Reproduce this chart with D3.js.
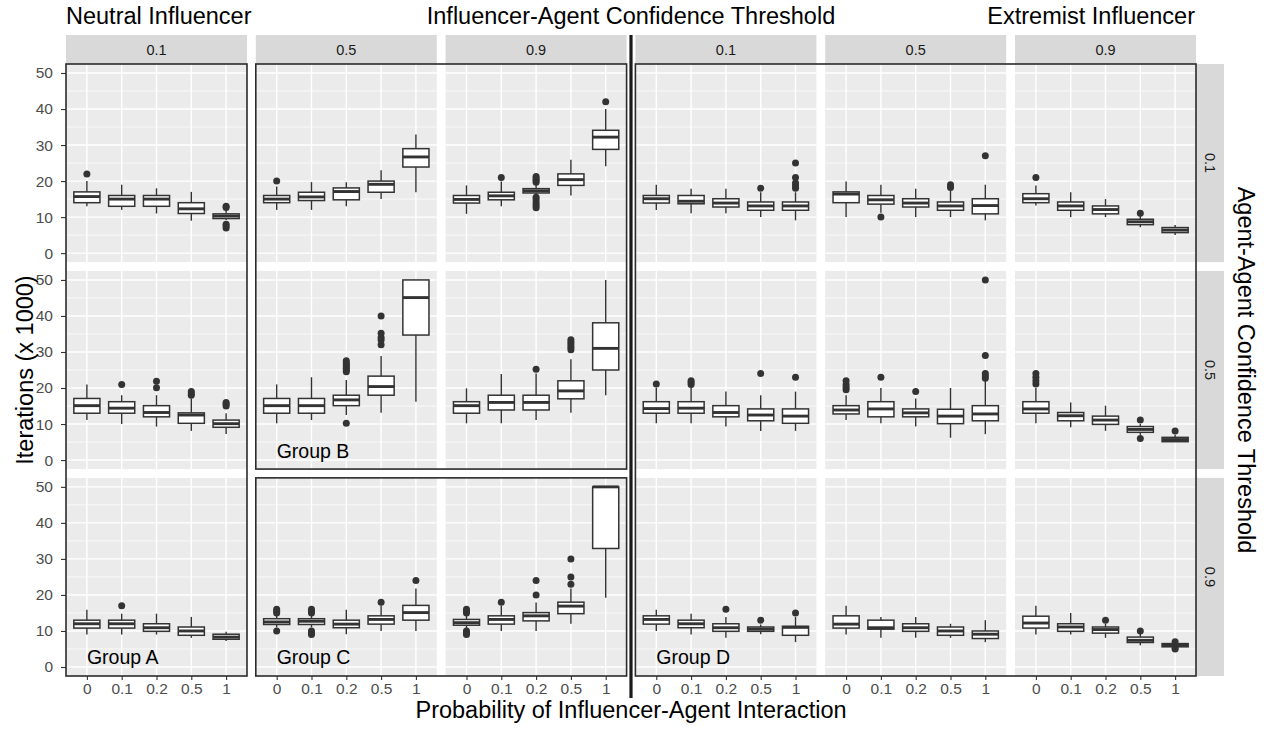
<!DOCTYPE html>
<html>
<head>
<meta charset="utf-8">
<script src="https://cdn.jsdelivr.net/npm/d3@7"></script>
<style>
body { margin:0; background:#fff; }
svg { display:block; font-family:"Liberation Sans", Arial, Helvetica, sans-serif; }
.axis path.domain { display:none; }
.axis line { stroke:#333; stroke-width:1.1; }
.axis text { fill:#4d4d4d; font-size:15.5px; font-family:"Liberation Sans", Arial, sans-serif; }
</style>
</head>
<body>
<div id="canvas"></div>
<script>
var probabilities = ['0','0.1','0.2','0.5','1'];
var influencerThresholds = ['0.1','0.5','0.9'];
var agentThresholds = ['0.1','0.5','0.9'];
var yTicks = [0,10,20,30,40,50];
var yMinor = [5,15,25,35,45];

// one box = [lower whisker, q1, median, q3, upper whisker, [outliers]]  (iterations x 1000)
// neutral influencer, agent-agent threshold 0.1
var neutral_a01_i01 = [[13,14,15.7,17,20,[22]], [12,13,15,16,19,[]], [11,13,15,16,18,[]], [9,11,12.3,14,17,[]], [9.2,9.6,10.3,10.9,12,[13,12.7,8,7.5,7]]];
var neutral_a01_i05 = [[12,14,15,16,18.5,[20]], [12,14.6,15.6,16.9,19.7,[]], [13,14.8,17.1,18.1,19.7,[]], [15,16.9,19.1,20,23,[]], [16.9,23.9,26.7,29,32.9,[]]];
var neutral_a01_i09 = [[10.9,13.9,14.9,16,18.8,[]], [13,14.8,15.9,16.9,19.9,[21]], [16,16.7,17.3,17.9,19,[19.7,20.2,20.7,21.3,15.5,14.8,14,13.3,12.6]], [16,18.8,20.4,22,25.9,[]], [24.1,28.8,32.2,34.1,40,[42]]];
// neutral influencer, agent-agent threshold 0.5
var neutral_a05_i01 = [[11.1,13,15.1,17.1,21,[]], [10,13,14.4,16.2,18,[21]], [9.3,12,13.2,15.1,18,[20.1,21.9]], [8.1,10.2,12.5,13.1,17.1,[18,18.5,19]], [7.2,9.1,10.1,11.1,13,[15,15.5,16]]];
var neutral_a05_i05 = [[10.2,13,15.1,17.1,21,[]], [11.1,13,15.1,17.1,23,[]], [12.5,15.1,16.7,18,22.2,[24.5,25,25.5,26,26.5,27,27.6,10.2]], [13.1,18,20.4,23.3,28.9,[32,33.3,34,35.2,40]], [16.2,34.7,45.1,50,50,[]]];
var neutral_a05_i09 = [[10.2,13,15.1,16.2,19.9,[]], [10.2,13.9,16,18,23.9,[]], [11.1,13.9,16,18,24,[25.2]], [13.1,17,19.2,22,28,[30.6,31.3,32,32.7,33.4]], [18,25,31,38.1,50,[]]];
// neutral influencer, agent-agent threshold 0.9
var neutral_a09_i01 = [[9,10.8,12,13,15.9,[]], [9,10.8,12,13,14.8,[17]], [9,9.9,10.9,12,14.8,[]], [8.1,8.8,10,11.1,13.9,[]], [7.2,7.7,8.3,9.1,9.8,[]]];
var neutral_a09_i05 = [[11,11.8,12.5,13.4,14.5,[15,15.5,16,10]], [11,11.8,12.7,13.4,14.5,[15,15.5,16,10,9.5,9]], [9.1,10.9,11.9,13,15.9,[]], [10,11.9,13.2,14.2,17.1,[18]], [10,13,15.1,17.1,21.8,[24]]];
var neutral_a09_i09 = [[10.8,11.6,12.3,13.2,14.5,[15,15.5,16,10,9.5,9]], [10,11.9,13.2,14.2,17,[18]], [10,12.8,14.2,15.1,17.9,[20,24]], [12,14.8,16.9,18,21.8,[23,25,30]], [19.2,32.9,50,50,50,[]]];
// extremist influencer, agent-agent threshold 0.1
var extremist_a01_i01 = [[12,13.9,15.1,16,19,[]], [11.1,13.7,14.4,16,17.9,[]], [11.1,12.8,13.9,15.1,17.9,[]], [10,11.9,13.1,14.2,16.9,[18]], [9.1,11.9,13.1,14.2,16.9,[18,18.7,19.5,21,25]]];
var extremist_a01_i05 = [[10,14,16.4,17,19.9,[]], [11.2,13.6,14.8,16,19,[10]], [10,12.8,13.9,15.1,17.9,[]], [10,11.9,13.1,14.2,17.4,[18.2,19]], [9.1,10.9,13.2,15.1,19,[27]]];
var extremist_a01_i09 = [[13.2,14,15.1,16.5,18.8,[21]], [10,11.9,13.1,14.2,16.9,[]], [10,10.9,12.1,13.1,15,[]], [7.2,7.9,8.7,9.4,10.3,[11.1]], [5,5.7,6.4,7.1,7.8,[]]];
// extremist influencer, agent-agent threshold 0.5
var extremist_a05_i01 = [[10.2,13,14.3,16.2,20.1,[21.1]], [10.2,13,14.4,16.2,20,[21,21.5,22]], [9.3,12,13.2,15.1,19,[]], [8.1,10.9,12.5,14.2,18,[24]], [8.1,10.2,12.2,14.2,19,[23]]];
var extremist_a05_i05 = [[11.1,12.8,13.9,15.1,18,[19.5,20.2,21,22]], [10.2,12,14.2,16.2,20,[23]], [9.3,12,13.1,14.2,17.1,[19]], [6.2,10.1,12.2,14.1,20,[]], [7.2,10.9,12.8,15.1,22,[22.7,23.3,24,29,50]]];
var extremist_a05_i09 = [[10.2,13,14.2,16.2,20,[21.1,22,23,24]], [9.1,10.9,12.3,13.2,16,[]], [8.1,9.9,11.1,12.2,15.1,[]], [7,7.7,8.5,9.3,10,[11.1,6]], [5,5.1,5.7,6.3,7,[8.1]]];
// extremist influencer, agent-agent threshold 0.9
var extremist_a09_i01 = [[10,11.9,13.2,14.2,15.9,[]], [9,10.9,12,13,14.8,[]], [8.1,9.9,10.9,12,13.9,[16]], [9.1,9.9,10.5,11.1,11.8,[13]], [6.9,8.8,11,11.3,13.9,[15]]];
var extremist_a09_i05 = [[9,10.8,11.9,14.2,17,[]], [8.1,10.5,10.9,13,13.9,[]], [8.1,9.9,10.9,12,13.9,[]], [8.1,8.8,10,11.1,12,[]], [6.9,7.9,9.1,10,13,[]]];
var extremist_a09_i09 = [[9,10.8,12.2,14.1,17,[]], [9,9.9,11.1,12,15,[]], [8.1,9.4,10.4,11.1,12,[13]], [6,6.8,7.4,8.3,9.2,[10]], [5.2,5.6,6,6.5,6.9,[7,5,5.3]]];

var groupLabels = ['Group A','Group B','Group C','Group D'];

var panels = [
  [neutral_a01_i01, neutral_a01_i05, neutral_a01_i09, extremist_a01_i01, extremist_a01_i05, extremist_a01_i09],
  [neutral_a05_i01, neutral_a05_i05, neutral_a05_i09, extremist_a05_i01, extremist_a05_i05, extremist_a05_i09],
  [neutral_a09_i01, neutral_a09_i05, neutral_a09_i09, extremist_a09_i01, extremist_a09_i05, extremist_a09_i09]
];

var outerWidth = 1267, outerHeight = 729;
var svg = d3.select('#canvas').append('svg')
    .attr('width', outerWidth)
    .attr('height', outerHeight);

var colScale = d3.scaleBand().domain(d3.range(6)).range([66, 1196]).paddingInner(0.0464);
var rowScale = d3.scaleBand().domain(d3.range(3)).range([64, 676]).paddingInner(0.0425);
var pw = colScale.bandwidth(), ph = rowScale.bandwidth();

var x = d3.scalePoint().domain(probabilities).range([0, pw]).padding(0.6);
var y = d3.scaleLinear().domain([-2.5, 52.5]).range([ph, 0]);
var boxW = x.step() * 0.75;
var dark = '#333333';

panels.forEach(function(rowData, r) {
  rowData.forEach(function(boxes, c) {
    var g = svg.append('g')
        .attr('transform', 'translate(' + colScale(c) + ',' + rowScale(r) + ')');

    g.append('rect').attr('width', pw).attr('height', ph).attr('fill', '#ebebeb');

    g.selectAll('.minor').data(yMinor).enter().append('line')
        .attr('x1', 0).attr('x2', pw)
        .attr('y1', function(d) { return y(d); }).attr('y2', function(d) { return y(d); })
        .attr('stroke', '#fff').attr('stroke-width', 0.7);
    g.selectAll('.major').data(yTicks).enter().append('line')
        .attr('x1', 0).attr('x2', pw)
        .attr('y1', function(d) { return y(d); }).attr('y2', function(d) { return y(d); })
        .attr('stroke', '#fff').attr('stroke-width', 1.4);
    g.selectAll('.vgrid').data(probabilities).enter().append('line')
        .attr('x1', function(d) { return x(d); }).attr('x2', function(d) { return x(d); })
        .attr('y1', 0).attr('y2', ph)
        .attr('stroke', '#fff').attr('stroke-width', 1.4);

    var b = g.selectAll('.box').data(boxes).enter().append('g')
        .attr('transform', function(d, i) { return 'translate(' + x(probabilities[i]) + ',0)'; });

    b.append('line')
        .attr('y1', function(d) { return y(d[3]); }).attr('y2', function(d) { return y(d[4]); })
        .attr('stroke', dark).attr('stroke-width', 1.4);
    b.append('line')
        .attr('y1', function(d) { return y(d[1]); }).attr('y2', function(d) { return y(d[0]); })
        .attr('stroke', dark).attr('stroke-width', 1.4);
    b.append('rect')
        .attr('x', -boxW / 2).attr('width', boxW)
        .attr('y', function(d) { return y(d[3]); })
        .attr('height', function(d) { return y(d[1]) - y(d[3]); })
        .attr('fill', '#fff').attr('stroke', dark).attr('stroke-width', 1.5);
    b.append('line')
        .attr('x1', -boxW / 2).attr('x2', boxW / 2)
        .attr('y1', function(d) { return y(d[2]); }).attr('y2', function(d) { return y(d[2]); })
        .attr('stroke', dark).attr('stroke-width', 2.9);
    b.selectAll('circle').data(function(d) { return d[5]; }).enter().append('circle')
        .attr('cy', function(v) { return y(v); })
        .attr('r', 3.5).attr('fill', dark);
  });
});

// axes
d3.range(6).forEach(function(c) {
  svg.append('g').attr('class', 'axis')
      .attr('transform', 'translate(' + colScale(c) + ',' + (rowScale(2) + ph) + ')')
      .call(d3.axisBottom(x).tickSize(4).tickPadding(3));
});
d3.range(3).forEach(function(r) {
  svg.append('g').attr('class', 'axis')
      .attr('transform', 'translate(' + colScale(0) + ',' + rowScale(r) + ')')
      .call(d3.axisLeft(y).tickValues(yTicks).tickSize(5).tickPadding(8));
});

// strips
var topLabels = influencerThresholds.concat(influencerThresholds);
topLabels.forEach(function(t, c) {
  svg.append('rect').attr('x', colScale(c)).attr('y', 35).attr('width', pw).attr('height', 29).attr('fill', '#d9d9d9');
  svg.append('text').attr('x', colScale(c) + pw / 2).attr('y', 50).attr('dy', '0.35em')
      .attr('text-anchor', 'middle').attr('font-size', 14.5).attr('fill', '#1a1a1a').text(t);
});
var stripX = colScale(5) + pw;
agentThresholds.forEach(function(t, r) {
  svg.append('rect').attr('x', stripX).attr('y', rowScale(r)).attr('width', 28).attr('height', ph).attr('fill', '#d9d9d9');
  svg.append('text').attr('transform', 'translate(' + (stripX + 14) + ',' + (rowScale(r) + ph / 2) + ') rotate(90)')
      .attr('dy', '0.35em').attr('text-anchor', 'middle').attr('font-size', 14.5).attr('fill', '#1a1a1a').text(t);
});

// group frames
function frame(c0, c1, r0, r1) {
  svg.append('rect')
      .attr('x', colScale(c0)).attr('y', rowScale(r0))
      .attr('width', colScale(c1) + pw - colScale(c0))
      .attr('height', rowScale(r1) + ph - rowScale(r0))
      .attr('fill', 'none').attr('stroke', '#2b2b2b').attr('stroke-width', 1.6);
}
frame(0, 0, 0, 2);
frame(1, 2, 0, 1);
frame(1, 2, 2, 2);
frame(3, 5, 0, 2);

var divX = (colScale(2) + pw + colScale(3)) / 2;
svg.append('line').attr('x1', divX).attr('x2', divX).attr('y1', 35).attr('y2', 698)
    .attr('stroke', '#1a1a1a').attr('stroke-width', 3.2);

// group labels
var labelPos = [[2, 0], [1, 1], [2, 1], [2, 3]];
groupLabels.forEach(function(t, i) {
  var r = labelPos[i][0], c = labelPos[i][1];
  svg.append('text')
      .attr('x', colScale(c) + x(probabilities[0]))
      .attr('y', rowScale(r) + y(0.7))
      .attr('font-size', 19.5).attr('fill', '#000').text(t);
});

// titles
svg.append('text').attr('x', colScale(0)).attr('y', 24).attr('font-size', 23.5).text('Neutral Influencer');
svg.append('text').attr('x', divX).attr('y', 24).attr('text-anchor', 'middle').attr('font-size', 23.5).text('Influencer-Agent Confidence Threshold');
svg.append('text').attr('x', 1195).attr('y', 24).attr('text-anchor', 'end').attr('font-size', 23.5).text('Extremist Influencer');
svg.append('text').attr('x', divX).attr('y', 718).attr('text-anchor', 'middle').attr('font-size', 23.5).text('Probability of Influencer-Agent Interaction');
svg.append('text').attr('transform', 'translate(33,370) rotate(-90)').attr('text-anchor', 'middle').attr('font-size', 23.5).text('Iterations (x 1000)');
svg.append('text').attr('transform', 'translate(1238,370) rotate(90)').attr('text-anchor', 'middle').attr('font-size', 23.5).text('Agent-Agent Confidence Threshold');
</script>
</body>
</html>
